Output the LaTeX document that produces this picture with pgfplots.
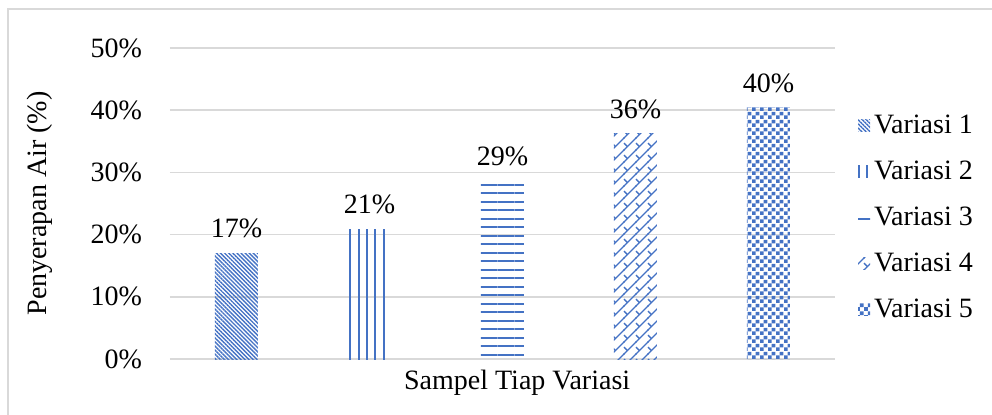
\documentclass[border=0pt]{standalone}
\usepackage{fontspec}
\setmainfont{Liberation Serif}
\usepackage{pgfplots}
\pgfplotsset{compat=1.18}
\usetikzlibrary{patterns,patterns.meta}
\definecolor{wblue}{RGB}{68,114,196}
\definecolor{gridgray}{RGB}{217,217,217}

\tikzdeclarepattern{
  name=checkmarks, type=uncolored,
  bounding box={(-0.5pt,-0.5pt) and (6.5pt,6.5pt)},
  tile size={(6pt,6pt)},
  code={
    \draw[line width=0.7pt] (-0.2pt,-0.2pt) -- (6.2pt,6.2pt);
    \draw[line width=0.7pt] (0pt,3.4pt) -- (1.7pt,1.7pt);
  }
}
\tikzdeclarepattern{
  name=smallchecker, type=uncolored,
  bounding box={(0pt,0pt) and (4pt,4pt)},
  tile size={(4pt,4pt)},
  code={
    \fill (0pt,0pt) rectangle (2pt,2pt);
    \fill (2pt,2pt) rectangle (4pt,4pt);
  }
}

\begin{document}
\begin{tikzpicture}[font=\fontsize{14pt}{16.5pt}\selectfont]
\useasboundingbox (-85pt,-27.5pt) rectangle (411pt,179.5pt);
\draw[gridgray, line width=0.7pt] (-81pt,175pt) rectangle (430pt,-40pt);
\begin{axis}[
  at={(0,0)}, anchor=south west,
  scale only axis,
  width=332.5pt, height=155.5pt,
  xmin=-0.5, xmax=4.5,
  ymin=0, ymax=50,
  ytick={0,10,20,30,40,50},
  xtick=\empty,
  /pgf/number format/assume math mode=true,
  yticklabel={\pgfmathprintnumber{\tick}\%},
  yticklabel style={xshift=-10.5pt},
  axis line style={draw=none},
  major tick style={draw=none},
  ymajorgrids,
  grid style={gridgray, line width=0.8pt},
  ylabel={Penyerapan Air (\%)},
  ylabel style={at={(axis description cs:-0.1955,0.5)}, anchor=center},
  xlabel={Sampel Tiap Variasi},
  xlabel style={at={(axis description cs:0.522,-0.077)}, anchor=center},
  ybar,
  bar width=21.5pt,
  nodes near coords={\pgfmathprintnumber[fixed,precision=0]{\pgfplotspointmeta}\%},
  nodes near coords style={black, anchor=south, yshift=4pt},
  legend style={draw=none, fill=none, at={(1.025,0.455)}, anchor=west,
    row sep=8.2pt, font=\fontsize{14pt}{16.5pt}\selectfont,
    /tikz/every even column/.append style={column sep=1pt}},
  legend cell align=left,
  legend image code/.code={\path[#1, draw=none] (0pt,-3pt) rectangle (6pt,3pt);},
]
\addplot[bar shift=0pt, draw=none, pattern={Lines[angle=-45,distance=1.45pt,line width=0.7pt]}, pattern color=wblue] coordinates {(0,17.0)};
\addplot[bar shift=0pt, draw=none, pattern={Lines[angle=90,distance=4.17pt,line width=1pt]}, pattern color=wblue] coordinates {(1,20.9)};
\addplot[bar shift=0pt, draw=none, pattern={Lines[angle=0,distance=4.25pt,line width=1pt]}, pattern color=wblue] coordinates {(2,28.7)};
\addplot[bar shift=0pt, draw=none, pattern=checkmarks, pattern color=wblue] coordinates {(3,36.2)};
\addplot[bar shift=0pt, draw=none, pattern=smallchecker, pattern color=wblue] coordinates {(4,40.4)};
\legend{Variasi 1, Variasi 2, Variasi 3, Variasi 4, Variasi 5}
\end{axis}
\end{tikzpicture}
\end{document}
